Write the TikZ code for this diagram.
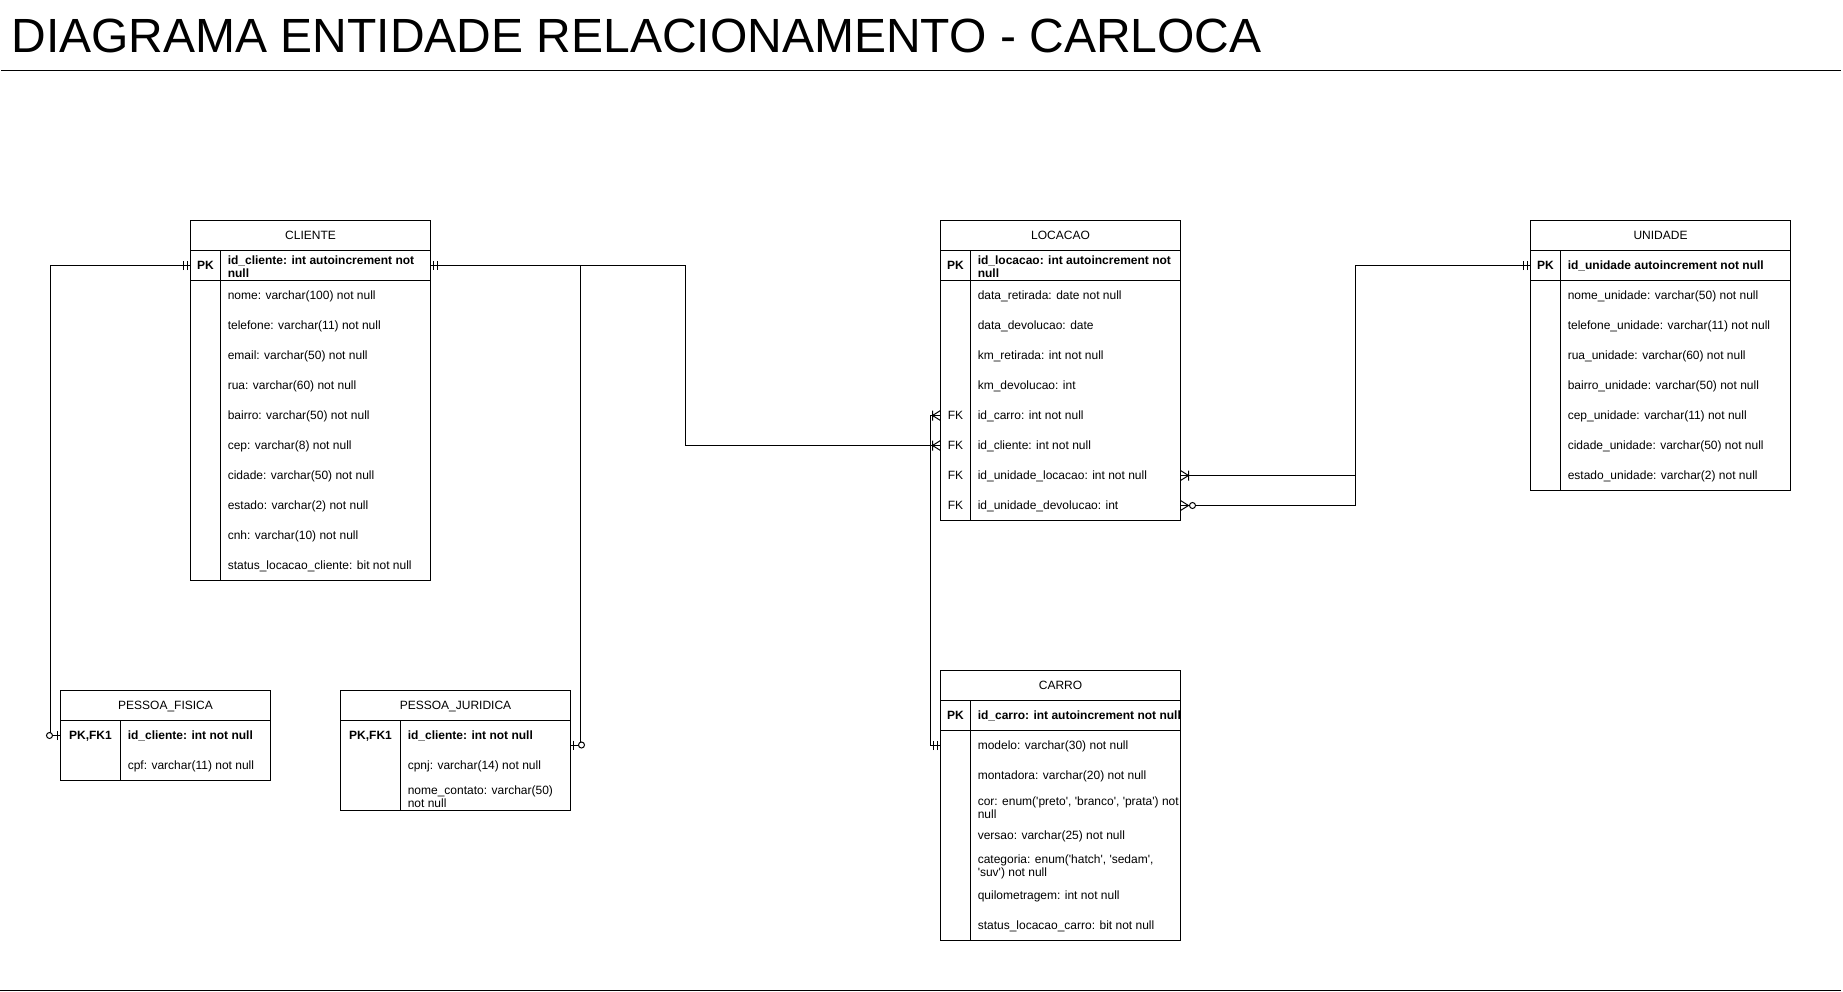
\documentclass[tikz,border=0pt]{standalone}
\usepackage{fontspec}
\setmainfont{Liberation Sans}
\usetikzlibrary{calc}
\newcommand{\fs}{\fontsize{9}{10}\selectfont}
\newcommand{\sq}{\textquotesingle}
\newcommand{\tblX}{0}
\newcommand{\tblW}{0}
\newcommand{\tblK}{0}
% table frame: name, x, y, w, h, key-col width, title, pk separator (1/0)
\newcommand{\ertable}[8]{%
  \renewcommand{\tblX}{#2}\renewcommand{\tblW}{#4}\renewcommand{\tblK}{#6}%
  \node[tblbox, minimum width=#4*0.75pt, minimum height=#5*0.75pt] (#1) at (#2,#3) {};
  \node[hdr] (#1-title) at ({#2+#4/2},{#3+19.2}) {#7};
  \draw[conn] (#2,#3+30) -- (#2+#4,#3+30);
  \draw[conn] (#2+#6,#3+30) -- (#2+#6,#3+#5);
  \ifnum#8=1 \draw[conn] (#2,#3+60) -- (#2+#4,#3+60);\fi
}
% one-line row: name, y centre, key style, key text, field style, field text
\newcommand{\frow}[6]{%
  \node[rowbox, minimum width=\tblW*0.75pt] (#1) at (\tblX,#2) {};
  \def\tmpkey{#4}\ifx\tmpkey\empty\else
    \node[#3] (#1-k) at ($(#1.west)+(\tblK/2,4.2)$) {#4};\fi
  \node[#5] (#1-t) at ($(#1.west)+(\tblK+7,4.2)$) {#6};
}
% two-line row
\newcommand{\frowtwo}[6]{%
  \node[rowbox, minimum width=\tblW*0.75pt] (#1) at (\tblX,#2) {};
  \def\tmpkey{#4}\ifx\tmpkey\empty\else
    \node[#3] (#1-k) at ($(#1.west)+(\tblK/2,4.2)$) {#4};\fi
  \node[#5] (#1-t) at ($(#1.west)+(\tblK+7,1.2)$) {#6};
}
\tikzset{
  tblbox/.style={draw, line width=0.75pt, inner sep=0pt, outer sep=0pt, anchor=north west},
  rowbox/.style={inner sep=0pt, outer sep=0pt, anchor=west, minimum height=22.5pt},
  hdr/.style={inner sep=0pt, anchor=base, font=\fs},
  fld/.style={inner sep=0pt, anchor=base west, font=\fs},
  fldb/.style={fld, font=\fs\bfseries},
  fldtwo/.style={inner sep=0pt, anchor=west, align=left, font=\fs},
  fldtwob/.style={fldtwo, font=\fs\bfseries},
  keyt/.style={inner sep=0pt, anchor=base, font=\fs},
  keytb/.style={keyt, font=\fs\bfseries},
  conn/.style={line width=0.75pt},
  mk/.style={line width=0.75pt},
  mandone/.pic={\draw[mk] (3,-4.5)--(3,4.5) (7,-4.5)--(7,4.5);},
  zeroone/.pic={\draw[mk] (3,-4.5)--(3,4.5); \draw[mk,fill=white] (11,0) circle[radius=3];},
  onemany/.pic={\draw[mk] (0,-5)--(8,0)--(0,5) (8,-5)--(8,5);},
  zeromany/.pic={\draw[mk] (0,-5)--(8,0)--(0,5); \draw[mk,fill=white] (12,0) circle[radius=3];},
}
\begin{document}
\begin{tikzpicture}[x=0.75pt,y=-0.75pt]
\path[use as bounding box, fill=white] (0,0) rectangle (1843,992);

% title and rules
\node[anchor=base west, inner sep=0pt, font=\fontsize{36}{43}\selectfont] (title) at (11.3,52.3) {DIAGRAMA ENTIDADE RELACIONAMENTO - CARLOCA};
\draw[conn] (1,70.5) -- (1841,70.5);
\draw[conn] (0,990) -- (1841,990);

% CLIENTE
\ertable{cli}{190.5}{220.5}{240}{360}{30}{CLIENTE}{1}
\frowtwo{cli-pk}{265.5}{keytb}{PK}{fldtwob}{id\_cliente: int autoincrement not\\null}
\frow{cli-r1}{295.5}{keyt}{}{fld}{nome: varchar(100) not null}
\frow{cli-r2}{325.5}{keyt}{}{fld}{telefone: varchar(11) not null}
\frow{cli-r3}{355.5}{keyt}{}{fld}{email: varchar(50) not null}
\frow{cli-r4}{385.5}{keyt}{}{fld}{rua: varchar(60) not null}
\frow{cli-r5}{415.5}{keyt}{}{fld}{bairro: varchar(50) not null}
\frow{cli-r6}{445.5}{keyt}{}{fld}{cep: varchar(8) not null}
\frow{cli-r7}{475.5}{keyt}{}{fld}{cidade: varchar(50) not null}
\frow{cli-r8}{505.5}{keyt}{}{fld}{estado: varchar(2) not null}
\frow{cli-r9}{535.5}{keyt}{}{fld}{cnh: varchar(10) not null}
\frow{cli-r10}{565.5}{keyt}{}{fld}{status\_locacao\_cliente: bit not null}

% LOCACAO
\ertable{loc}{940.5}{220.5}{240}{300}{30}{LOCACAO}{1}
\frowtwo{loc-pk}{265.5}{keytb}{PK}{fldtwob}{id\_locacao: int autoincrement not\\null}
\frow{loc-r1}{295.5}{keyt}{}{fld}{data\_retirada: date not null}
\frow{loc-r2}{325.5}{keyt}{}{fld}{data\_devolucao: date}
\frow{loc-r3}{355.5}{keyt}{}{fld}{km\_retirada: int not null}
\frow{loc-r4}{385.5}{keyt}{}{fld}{km\_devolucao: int}
\frow{loc-carro}{415.5}{keyt}{FK}{fld}{id\_carro: int not null}
\frow{loc-cliente}{445.5}{keyt}{FK}{fld}{id\_cliente: int not null}
\frow{loc-uniloc}{475.5}{keyt}{FK}{fld}{id\_unidade\_locacao: int not null}
\frow{loc-unidev}{505.5}{keyt}{FK}{fld}{id\_unidade\_devolucao: int}

% UNIDADE
\ertable{uni}{1530.5}{220.5}{260}{270}{30}{UNIDADE}{1}
\frow{uni-pk}{265.5}{keytb}{PK}{fldb}{id\_unidade autoincrement not null}
\frow{uni-r1}{295.5}{keyt}{}{fld}{nome\_unidade: varchar(50) not null}
\frow{uni-r2}{325.5}{keyt}{}{fld}{telefone\_unidade: varchar(11) not null}
\frow{uni-r3}{355.5}{keyt}{}{fld}{rua\_unidade: varchar(60) not null}
\frow{uni-r4}{385.5}{keyt}{}{fld}{bairro\_unidade: varchar(50) not null}
\frow{uni-r5}{415.5}{keyt}{}{fld}{cep\_unidade: varchar(11) not null}
\frow{uni-r6}{445.5}{keyt}{}{fld}{cidade\_unidade: varchar(50) not null}
\frow{uni-r7}{475.5}{keyt}{}{fld}{estado\_unidade: varchar(2) not null}

% CARRO
\ertable{car}{940.5}{670.5}{240}{270}{30}{CARRO}{1}
\frow{car-pk}{715.5}{keytb}{PK}{fldb}{id\_carro: int autoincrement not null}
\frow{car-modelo}{745.5}{keyt}{}{fld}{modelo: varchar(30) not null}
\frow{car-r2}{775.5}{keyt}{}{fld}{montadora: varchar(20) not null}
\frowtwo{car-r3}{806.5}{keyt}{}{fldtwo}{cor: enum(\sq preto\sq, \sq branco\sq, \sq prata\sq) not\\null}
\frow{car-r4}{835.5}{keyt}{}{fld}{versao: varchar(25) not null}
\frowtwo{car-r5}{865.5}{keyt}{}{fldtwo}{categoria: enum(\sq hatch\sq, \sq sedam\sq,\\\sq suv\sq) not null}
\frow{car-r6}{895.5}{keyt}{}{fld}{quilometragem: int not null}
\frow{car-r7}{925.5}{keyt}{}{fld}{status\_locacao\_carro: bit not null}

% PESSOA_FISICA
\ertable{pf}{60.5}{690.5}{210}{90}{60}{PESSOA\_FISICA}{0}
\frow{pf-pk}{735.5}{keytb}{PK,FK1}{fldb}{id\_cliente: int not null}
\frow{pf-r1}{765.5}{keyt}{}{fld}{cpf: varchar(11) not null}

% PESSOA_JURIDICA
\ertable{pj}{340.5}{690.5}{230}{120}{60}{PESSOA\_JURIDICA}{0}
\frow{pj-pk}{735.5}{keytb}{PK,FK1}{fldb}{id\_cliente: int not null}
\frow{pj-r1}{765.5}{keyt}{}{fld}{cpnj: varchar(14) not null}
\frowtwo{pj-r2}{795.5}{keyt}{}{fldtwo}{nome\_contato: varchar(50)\\not null}

\coordinate (pjend) at ($(pj-pk.east)+(0,9.5)$);

% connectors
\draw[conn] (cli-pk.west) -- ++(-140,0) |- (pf-pk.west);
\draw[conn] (cli-pk.east) -- ++(150,0) |- (pjend);
\draw[conn] (cli-pk.east) -- ++(255,0) |- (loc-cliente.west);
\draw[conn] (car-modelo.west) -- ++(-10,0) |- (loc-carro.west);
\draw[conn] (uni-pk.west) -- ++(-175,0) |- (loc-uniloc.east);
\draw[conn] (uni-pk.west) -- ++(-175,0) |- (loc-unidev.east);

% end markers
\pic[rotate=180] at (cli-pk.west) {mandone};
\pic at (cli-pk.east) {mandone};
\pic[rotate=180] at (pf-pk.west) {zeroone};
\pic at (pjend) {zeroone};
\pic[rotate=180] at (loc-cliente.west) {onemany};
\pic[rotate=180] at (loc-carro.west) {onemany};
\pic[rotate=180] at (car-modelo.west) {mandone};
\pic at (loc-uniloc.east) {onemany};
\pic at (loc-unidev.east) {zeromany};
\pic[rotate=180] at (uni-pk.west) {mandone};
\end{tikzpicture}
\end{document}
